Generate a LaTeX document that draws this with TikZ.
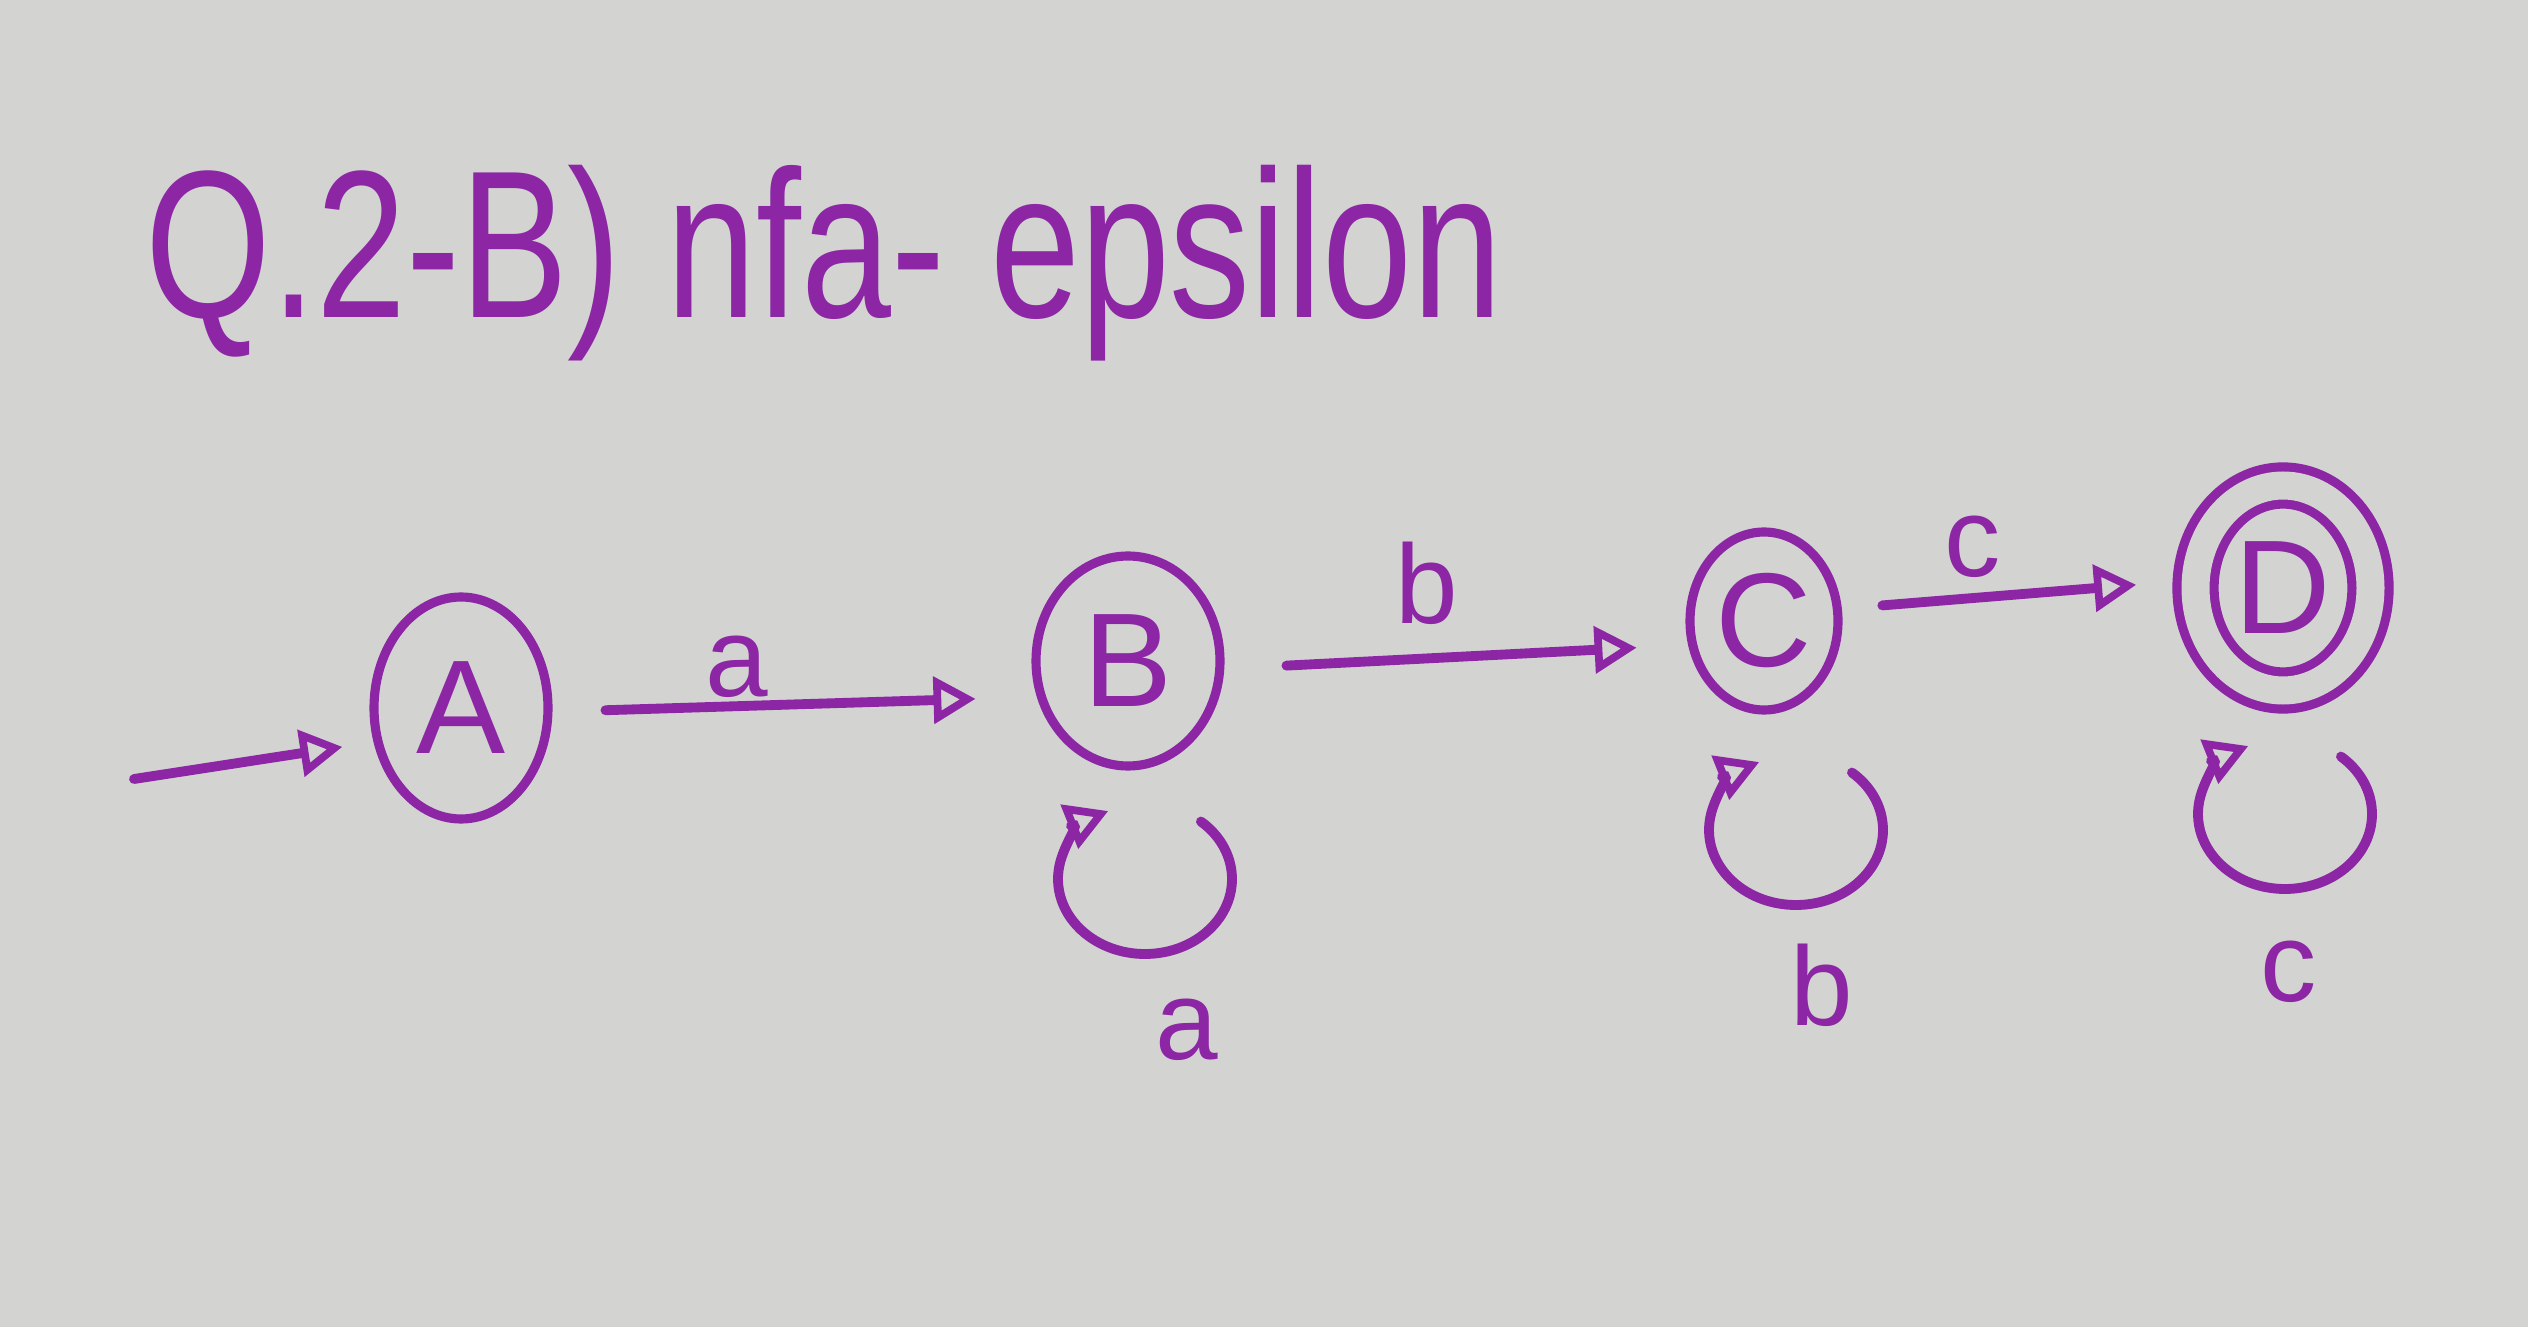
\documentclass[tikz,border=0pt]{standalone}
\usepackage{fontspec}
\usepackage{graphicx}
\setmainfont{Liberation Sans}
\usetikzlibrary{arrows.meta,shapes.geometric}
\definecolor{ink}{RGB}{140,38,165}
\definecolor{paper}{RGB}{211,212,209}
\tikzstyle{vertex}=[ellipse,draw=ink,line width=2.6pt,outer sep=0pt,inner sep=0pt,text=ink,font=\fontsize{38}{42}\selectfont]
\tikzstyle{accepting}=[double=paper,double distance=0.28cm]
\tikzstyle{edge} = [draw=ink,line width=2.8pt,line cap=round,-{Triangle[open,length=0.42cm,width=0.46cm,line width=2.2pt]}]
\tikzstyle{weight} = [text=ink,inner sep=1pt,font=\fontsize{32}{36}\selectfont]
\tikzstyle{heading} = [text=ink,inner sep=0pt,font=\fontsize{46}{50}\selectfont]

\begin{document}
\begin{tikzpicture}
  \fill[paper] (0,0) rectangle (25.28,13.27);
  \useasboundingbox (0,0) rectangle (25.28,13.27);

  \node[heading, anchor=base west] (title) at (1.45,10.09) {\scalebox{1}[1.3]{Q.2-B) nfa- epsilon}};

  % First we draw the states
  \foreach \pos/\name/\sx/\sy in {{(4.61,6.19)/A/1.74/2.22}, {(11.28,6.66)/B/1.84/2.10}, {(17.64,7.06)/C/1.48/1.78}}
    \node[vertex, minimum width=\sx cm, minimum height=\sy cm] (\name) at \pos {\name};
  \node[vertex, accepting, minimum width=1.75cm, minimum height=2.05cm] (D) at (22.83,7.39) {D};

  % start arrow
  \coordinate (start) at (1.34,5.48);
  \path[edge, shorten >=0.32cm] (start) -- ([yshift=-3.4mm]A.west);

  % Connect states with edges and draw symbols
  \path[edge, shorten <=0.575cm, shorten >=0.605cm] ([yshift=-0.4mm]A.east) -- node[weight, above, pos=0.386] {a} ([yshift=-3.6mm]B.west);
  \path[edge, shorten <=0.665cm, shorten >=0.535cm] ([yshift=-0.8mm]B.east) -- node[weight, above=2.5mm, pos=0.44] {b} ([yshift=-2.4mm]C.west);
  \path[edge, shorten <=0.445cm, shorten >=0.595cm] ([yshift=1.2mm]C.east) -- node[weight, above=1.2mm, pos=0.377] {c} ([yshift=0.8mm]D.west);

  % self loops, drawn apart from the states
  \coordinate (Bl) at (11.45,4.48);
  \coordinate (Cl) at (17.96,4.97);
  \coordinate (Dl) at (22.85,5.13);
  \foreach \name/\sym/\lpos in {{Bl/a/(11.87,2.97)}, {Cl/b/(18.22,3.42)}, {Dl/c/(22.89,3.55)}}
  {
    \path[edge] (\name) ++(50:0.87cm and 0.75cm) arc[start angle=50, end angle=-245, x radius=0.87cm, y radius=0.75cm];
    \node[weight] at \lpos {\sym};
  }
\end{tikzpicture}
\end{document}
